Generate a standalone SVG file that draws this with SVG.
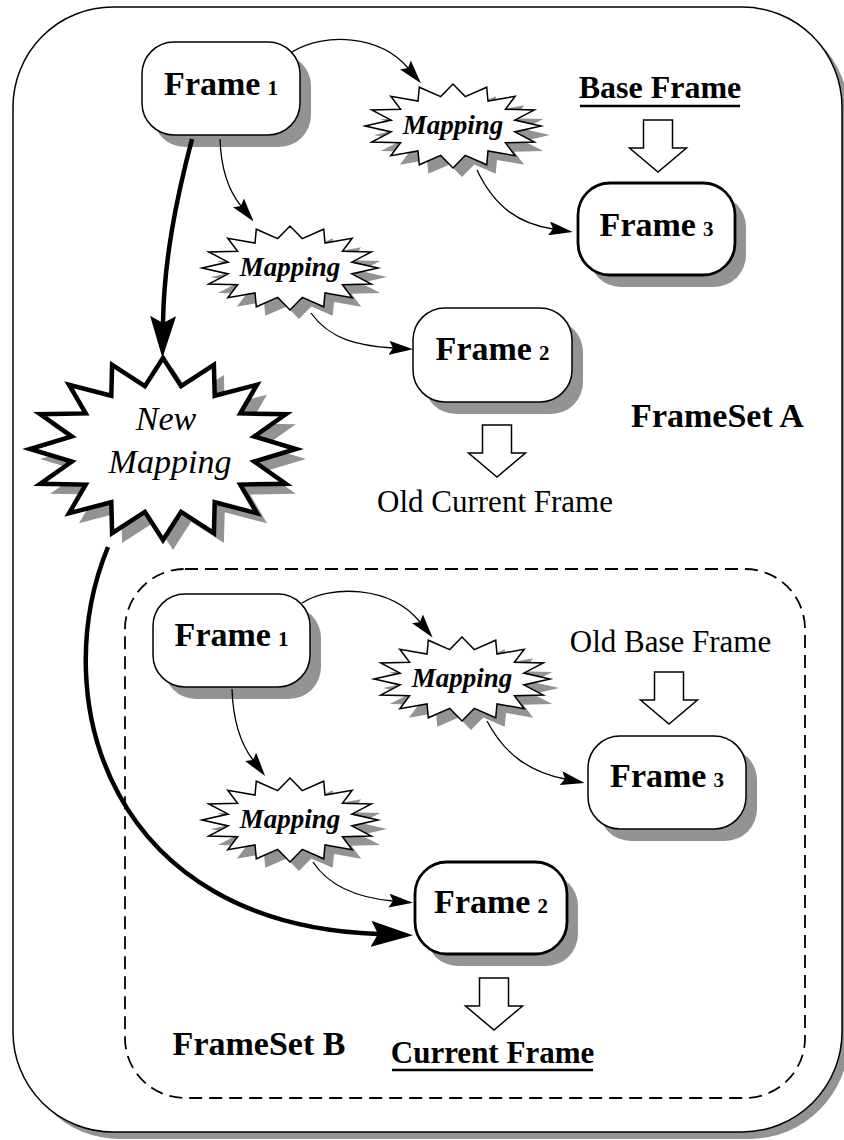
<svg xmlns="http://www.w3.org/2000/svg" xmlns:xlink="http://www.w3.org/1999/xlink" width="844" height="1140" viewBox="0 0 844 1140">
<style>
.sh{fill:#939393}
.box{fill:#fff;stroke:#000;stroke-width:1.5}
.boxb{fill:#fff;stroke:#000;stroke-width:2.8}
.star{fill:#fff;stroke:#000;stroke-width:1.5;stroke-miterlimit:10;stroke-linejoin:miter}
.bigstar{fill:#fff;stroke:#000;stroke-width:4.5;stroke-miterlimit:10;stroke-linejoin:miter}
.lbl{font-family:"Liberation Serif","Times New Roman",serif;font-weight:bold;font-size:34px;text-anchor:middle}
.sub{font-size:21px}
.map{font-family:"Liberation Serif","Times New Roman",serif;font-weight:bold;font-style:italic;font-size:27px;text-anchor:middle}
.big{font-family:"Liberation Serif","Times New Roman",serif;font-style:italic;font-size:34px;text-anchor:middle}
.reg{font-family:"Liberation Serif","Times New Roman",serif;font-size:31px;text-anchor:middle}
.bt{font-family:"Liberation Serif","Times New Roman",serif;font-weight:bold;font-size:32px;text-anchor:middle}
.ul{stroke:#000;stroke-width:2.5}
.thin{fill:none;stroke:#000;stroke-width:1.3}
.thick{fill:none;stroke:#000;stroke-width:4.5}
.blk{fill:#fff;stroke:#000;stroke-width:1.5;stroke-linejoin:miter}
.outer{fill:#fff;stroke:#000;stroke-width:1.5}
.dash{fill:none;stroke:#000;stroke-width:1.8;stroke-dasharray:13 7}
</style>
<defs>
<marker id="ah" markerUnits="userSpaceOnUse" markerWidth="24" markerHeight="14" viewBox="0 0 24 14" refX="4" refY="7" orient="auto"><path d="M0,0 L24,7 L0,14 L4,7 Z" fill="#000"/></marker>
<marker id="ahb" markerUnits="userSpaceOnUse" markerWidth="42" markerHeight="26" viewBox="0 0 42 26" refX="7" refY="13" orient="auto"><path d="M0,0 L42,13 L0,26 L7,13 Z" fill="#000"/></marker>
<path id="s" d="M88,0 L61.8,5.9 L81.3,16.1 L52.4,16.7 L62.2,29.7 L35,24.9 L33.7,38.8 L12.3,29.4 L0,42 L-12.3,29.4 L-33.7,38.8 L-35,24.9 L-62.2,29.7 L-52.4,16.7 L-81.3,16.1 L-61.8,5.9 L-88,0 L-61.8,-5.9 L-81.3,-16.1 L-52.4,-16.7 L-62.2,-29.7 L-35,-24.9 L-33.7,-38.8 L-12.3,-29.4 L0,-42 L12.3,-29.4 L33.7,-38.8 L35,-24.9 L62.2,-29.7 L52.4,-16.7 L81.3,-16.1 L61.8,-5.9 Z"/>
<path id="bs" d="M133,0 L91.2,12.5 L122.9,34.8 L77.3,35.6 L94,64.3 L51.7,53.2 L50.9,84.1 L18.1,62.8 L0,91 L-18.1,62.8 L-50.9,84.1 L-51.7,53.2 L-94,64.3 L-77.3,35.6 L-122.9,34.8 L-91.2,12.5 L-133,0 L-91.2,-12.5 L-122.9,-34.8 L-77.3,-35.6 L-94,-64.3 L-51.7,-53.2 L-50.9,-84.1 L-18.1,-62.8 L0,-91 L18.1,-62.8 L50.9,-84.1 L51.7,-53.2 L94,-64.3 L77.3,-35.6 L122.9,-34.8 L91.2,-12.5 Z"/>
<path id="blkarrow" d="M-14.5,-52 H14.5 V-24 H28.5 L0,0 L-28.5,-24 H-14.5 Z"/>
</defs>

<g id="frameset-a-border">
<rect class="sh" x="20" y="14" width="829" height="1125" rx="100"/>
<rect class="outer" x="13" y="7" width="829" height="1125" rx="100"/>
</g>
<g id="frameset-b-border">
<rect class="dash" x="125" y="569" width="680" height="529" rx="60"/>
</g>

<g id="frame1-a">
<rect class="sh" x="153" y="54" width="158" height="93" rx="32"/>
<rect class="box" x="142" y="42" width="158" height="93" rx="32"/>
<text class="lbl" x="221" y="95">Frame<tspan class="sub" dx="7">1</tspan></text>
</g>
<g id="frame3-a">
<rect class="sh" x="589" y="195" width="157" height="92" rx="32"/>
<rect class="boxb" x="578" y="183" width="157" height="92" rx="32"/>
<text class="lbl" x="656.5" y="236">Frame<tspan class="sub" dx="7">3</tspan></text>
</g>
<g id="frame2-a">
<rect class="sh" x="424" y="320" width="159" height="94" rx="32"/>
<rect class="box" x="413" y="308" width="159" height="94" rx="32"/>
<text class="lbl" x="492.5" y="360">Frame<tspan class="sub" dx="7">2</tspan></text>
</g>
<g id="mapping-a1">
<use xlink:href="#s" class="sh" transform="translate(462,135)"/>
<use xlink:href="#s" class="star" transform="translate(453,126)"/>
<text class="map" x="453" y="134">Mapping</text>
</g>
<g id="mapping-a2">
<use xlink:href="#s" class="sh" transform="translate(299,277)"/>
<use xlink:href="#s" class="star" transform="translate(290,268)"/>
<text class="map" x="290" y="276">Mapping</text>
</g>
<g id="new-mapping">
<use xlink:href="#bs" class="sh" transform="translate(173,459)"/>
<use xlink:href="#bs" class="bigstar" transform="translate(163,449)"/>
<text class="big" x="166" y="430">New</text>
<text class="big" x="170" y="473">Mapping</text>
</g>
<g id="frame1-b">
<rect class="sh" x="164" y="606" width="157" height="93" rx="32"/>
<rect class="box" x="153" y="594" width="157" height="93" rx="32"/>
<text class="lbl" x="231.5" y="646">Frame<tspan class="sub" dx="7">1</tspan></text>
</g>
<g id="frame3-b">
<rect class="sh" x="599" y="748" width="158" height="93" rx="32"/>
<rect class="box" x="588" y="736" width="158" height="93" rx="32"/>
<text class="lbl" x="667" y="787">Frame<tspan class="sub" dx="7">3</tspan></text>
</g>
<g id="frame2-b">
<rect class="sh" x="426" y="874" width="152" height="92" rx="32"/>
<rect class="boxb" x="415" y="862" width="152" height="92" rx="32"/>
<text class="lbl" x="491" y="913">Frame<tspan class="sub" dx="7">2</tspan></text>
</g>
<g id="mapping-b1">
<use xlink:href="#s" class="sh" transform="translate(471,688)"/>
<use xlink:href="#s" class="star" transform="translate(462,679)"/>
<text class="map" x="462" y="687">Mapping</text>
</g>
<g id="mapping-b2">
<use xlink:href="#s" class="sh" transform="translate(299,829)"/>
<use xlink:href="#s" class="star" transform="translate(290,820)"/>
<text class="map" x="290" y="828">Mapping</text>
</g>

<g id="labels">
<text class="bt" x="660" y="98">Base Frame</text>
<line class="ul" x1="580" y1="106" x2="740" y2="106"/>
<text class="reg" x="495" y="512">Old Current Frame</text>
<text class="lbl" x="717.5" y="427">FrameSet A</text>
<text class="reg" x="670.5" y="652">Old Base Frame</text>
<text class="lbl" x="259" y="1055">FrameSet B</text>
<text class="bt" x="492.5" y="1063" style="font-size:31px">Current Frame</text>
<line class="ul" x1="392" y1="1070" x2="593" y2="1070"/>
</g>

<g id="connectors">
<path class="thin" marker-end="url(#ah)" d="M292,52 C325,32 380,35 408,68"/>
<path class="thin" marker-end="url(#ah)" d="M477,170 C495,208 520,224 553,229"/>
<path class="thin" marker-end="url(#ah)" d="M220,139 C221,170 228,190 241,206"/>
<path class="thin" marker-end="url(#ah)" d="M311,313 C330,340 360,346 393,348"/>
<path class="thick" marker-end="url(#ahb)" d="M192,139 C176,200 164,260 163,323"/>
<path class="thick" marker-end="url(#ahb)" d="M108,547 C45,700 110,925 378,934"/>
<path class="thin" marker-end="url(#ah)" d="M302,603 C330,585 390,585 420,622"/>
<path class="thin" marker-end="url(#ah)" d="M487,721 C505,755 530,772 565,779"/>
<path class="thin" marker-end="url(#ah)" d="M232,689 C233,720 240,743 253,760"/>
<path class="thin" marker-end="url(#ah)" d="M313,862 C330,888 360,898 393,901"/>
<use xlink:href="#blkarrow" class="blk" transform="translate(658,172)"/>
<use xlink:href="#blkarrow" class="blk" transform="translate(497,477)"/>
<use xlink:href="#blkarrow" class="blk" transform="translate(669,724)"/>
<use xlink:href="#blkarrow" class="blk" transform="translate(494,1030)"/>
</g>
</svg>
